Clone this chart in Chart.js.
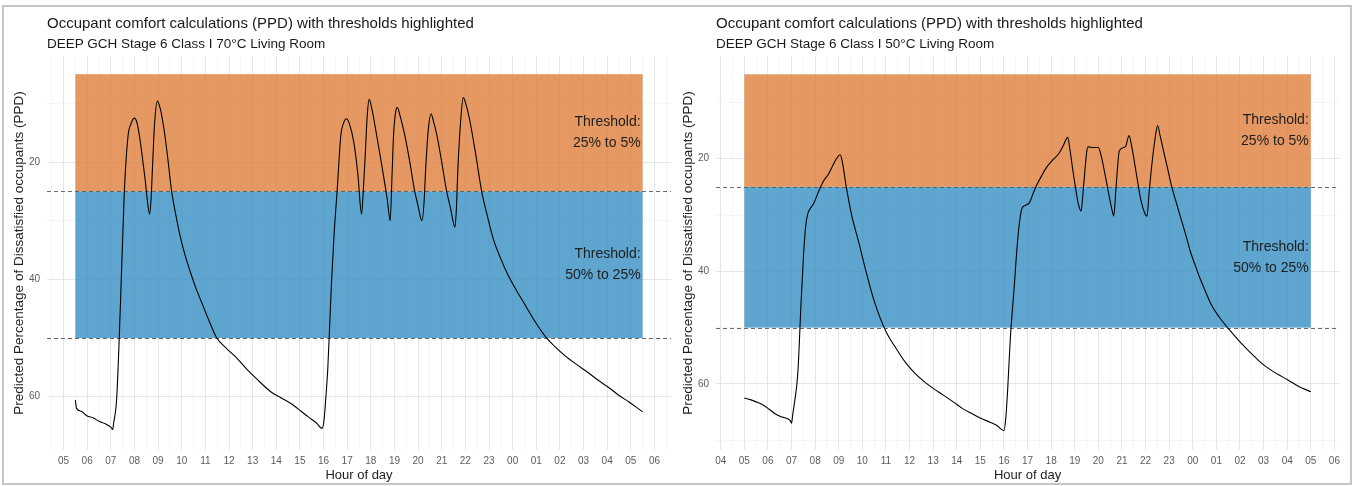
<!DOCTYPE html>
<html lang="en">
<head>
  <meta charset="UTF-8">
  <title>Occupant comfort calculations (PPD)</title>
  <script src="https://cdn.jsdelivr.net/npm/chart.js"></script>
  <style>
    body { margin: 0; background: #fff; font-family: 'Liberation Sans', Arial, sans-serif; }
    .frame { position: absolute; left: 2px; top: 5px; width: 1346px; height: 476px; border: 2px solid #c6c6c6; }
    .panel { position: absolute; top: 6px; width: 672px; height: 477px; }
    .panel h1 { position: absolute; margin: 0; top: 8px; left: 43px; font-size: 15px; font-weight: normal; color: #1a1a1a; white-space: nowrap; line-height: 18px; }
    .panel h2 { position: absolute; margin: 0; top: 30px; left: 43px; font-size: 13.5px; font-weight: normal; color: #1a1a1a; white-space: nowrap; line-height: 16px; }
    canvas { position: absolute; left: 0; top: 0; }
  </style>
</head>
<body>
  <div class="frame"></div>
  <div class="panel" style="left:4px">
    <canvas id="chart70" width="672" height="477"></canvas>
    <h1>Occupant comfort calculations (PPD) with thresholds highlighted</h1>
    <h2>DEEP GCH Stage 6 Class I 70°C Living Room</h2>
  </div>
  <div class="panel" style="left:673px">
    <canvas id="chart50" width="672" height="477"></canvas>
    <h1>Occupant comfort calculations (PPD) with thresholds highlighted</h1>
    <h2>DEEP GCH Stage 6 Class I 50°C Living Room</h2>
  </div>

  <script>
    // hour of day (24+ = next morning) and PPD, 70°C flow temperature
    const hours70 = [5.50, 5.55, 5.75, 6.00, 6.25, 6.50, 6.75, 7.00, 7.08, 7.12, 7.25, 7.41, 7.57, 7.73, 7.85, 8.00, 8.10, 8.21, 8.33, 8.45,
      8.56, 8.64, 8.70, 8.76, 8.85, 8.97, 9.10, 9.25, 9.40, 9.56, 9.75, 9.96, 10.15, 10.36, 10.60, 10.84, 11.15, 11.47, 11.90, 12.35,
      12.75, 13.15, 13.78, 14.25, 14.74, 15.05, 15.37, 15.70, 15.94, 16.02, 16.10, 16.18, 16.33, 16.45, 16.57, 16.73, 16.85, 16.97, 17.08, 17.28,
      17.45, 17.61, 17.68, 17.77, 17.85, 17.93, 18.05, 18.25, 18.40, 18.56, 18.70, 18.82, 18.90, 18.96, 19.05, 19.12, 19.25, 19.44, 19.65, 19.84,
      20.00, 20.16, 20.25, 20.32, 20.43, 20.55, 20.65, 20.80, 21.00, 21.19, 21.38, 21.56, 21.62, 21.68, 21.80, 21.91, 22.05, 22.23, 22.45, 22.70,
      22.95, 23.18, 23.50, 23.82, 24.15, 24.46, 24.95, 25.41, 25.80, 26.21, 26.70, 27.16, 27.65, 28.12, 28.50, 28.92, 29.20, 29.50];
    const ppd70 = [60.6, 62.0, 62.5, 63.3, 63.6, 64.2, 64.6, 65.2, 65.6, 64.5, 60.2, 43.9, 25.2, 15.5, 13.5, 12.5, 13.2, 15.5, 19.0, 22.9,
      27.0, 28.9, 26.5, 21.2, 13.5, 9.6, 11.0, 14.4, 19.0, 24.6, 29.0, 33.1, 36.0, 38.7, 41.5, 43.9, 47.0, 49.9, 51.8, 53.5,
      55.3, 56.9, 59.2, 60.3, 61.5, 62.5, 63.5, 64.5, 65.4, 64.0, 60.0, 55.2, 41.1, 32.0, 25.2, 15.5, 13.3, 12.6, 13.3, 16.6,
      22.0, 28.9, 25.0, 18.3, 12.0, 9.3, 11.0, 15.5, 19.0, 22.9, 26.5, 30.0, 22.0, 15.5, 11.5, 10.7, 12.3, 15.5, 20.0, 24.6,
      27.5, 30.0, 27.0, 21.2, 14.5, 11.8, 13.0, 15.5, 20.0, 24.6, 28.0, 31.1, 28.0, 21.5, 13.0, 9.0, 10.5, 13.8, 19.0, 25.2,
      29.5, 33.1, 36.5, 39.4, 41.8, 43.9, 47.2, 49.9, 51.5, 53.0, 54.5, 55.8, 57.3, 58.6, 59.8, 60.9, 61.7, 62.6];

    // same room at 50°C flow temperature
    const hours50 = [5.00, 5.25, 5.50, 5.81, 6.05, 6.30, 6.60, 6.94, 7.00, 7.05, 7.11, 7.27, 7.40, 7.51, 7.60, 7.68, 7.80, 7.92, 8.16, 8.35,
      8.57, 8.75, 8.89, 9.06, 9.15, 9.30, 9.54, 9.87, 10.19, 10.51, 11.00, 11.40, 11.81, 12.20, 12.62, 13.00, 13.43, 13.85, 14.25, 14.65,
      15.06, 15.40, 15.70, 16.00, 16.08, 16.16, 16.27, 16.43, 16.59, 16.75, 16.90, 17.08, 17.25, 17.41, 17.60, 17.81, 18.05, 18.30, 18.50, 18.70,
      18.80, 18.90, 19.03, 19.15, 19.27, 19.35, 19.43, 19.50, 19.56, 19.80, 20.00, 20.12, 20.25, 20.45, 20.60, 20.65, 20.75, 20.89, 21.14, 21.30,
      21.42, 21.54, 21.66, 21.78, 21.95, 22.06, 22.15, 22.27, 22.40, 22.51, 22.62, 22.76, 22.92, 23.08, 23.28, 23.49, 23.70, 23.89, 24.10, 24.30,
      24.55, 24.78, 25.15, 25.51, 25.95, 26.41, 26.80, 27.22, 27.60, 28.03, 28.51, 29.00];
    const ppd50 = [62.5, 62.8, 63.2, 63.8, 64.5, 65.3, 65.9, 66.5, 67.0, 65.5, 63.8, 57.9, 45.9, 37.0, 32.0, 29.9, 28.8, 28.1, 25.7, 24.0,
      22.7, 21.2, 20.1, 19.3, 20.5, 24.5, 29.9, 35.2, 40.6, 45.4, 50.7, 53.5, 56.1, 58.0, 59.6, 60.8, 62.0, 63.2, 64.4, 65.3,
      66.2, 66.8, 67.4, 68.3, 66.0, 60.8, 51.9, 43.0, 34.0, 29.0, 28.3, 27.8, 26.0, 24.5, 23.0, 21.5, 20.3, 19.2, 17.8, 16.2,
      18.5, 21.5, 25.1, 28.0, 29.3, 26.0, 22.1, 19.0, 17.9, 18.0, 18.0, 19.5, 22.1, 26.5, 29.5, 30.2, 25.0, 18.6, 17.9, 15.9,
      18.0, 20.9, 24.0, 26.9, 29.5, 30.2, 26.0, 20.9, 16.5, 14.1, 16.0, 18.6, 21.5, 24.5, 27.5, 30.5, 33.5, 36.4, 38.9, 41.2,
      43.7, 45.9, 48.3, 50.2, 52.3, 54.3, 55.9, 57.3, 58.3, 59.3, 60.5, 61.4];

    // comfort threshold bands (PPD %) and their captions
    const bandEdges = [5, 25, 50];
    const bandColours = ['rgba(222,126,58,0.8)', 'rgba(54,143,196,0.8)'];
    const bandText = [['Threshold:', '25% to 5%'], ['Threshold:', '50% to 25%']];

    // axis breaks: labelled PPD values, PPD grid lines, hour grid lines (every half hour)
    const yLabelTicks = [20, 40, 60];
    const yGridTicks = [10, 20, 30, 40, 50, 60, 70];
    const hourGridStep = 0.5;

    const FONT = "'Liberation Sans', Arial, sans-serif";
    const isWhole = v => Math.abs(v - Math.round(v)) < 1e-6;

    const thresholdBands = {
      id: 'thresholdBands',
      beforeDatasetsDraw(chart) {
        const { ctx, chartArea, scales: { x, y } } = chart;
        const hrs = chart.data.datasets[0].data;
        const x0 = x.getPixelForValue(hrs[0].x);
        const x1 = x.getPixelForValue(hrs[hrs.length - 1].x);
        ctx.save();
        for (let i = 0; i < bandColours.length; i++) {
          const yTop = y.getPixelForValue(bandEdges[i]);
          const yBot = y.getPixelForValue(bandEdges[i + 1]);
          ctx.fillStyle = bandColours[i];
          ctx.fillRect(x0, yTop, x1 - x0, yBot - yTop);
        }
        // dashed lines at the threshold limits, across the whole panel
        ctx.strokeStyle = '#5a5a5a';
        ctx.lineWidth = 0.9;
        ctx.setLineDash([4, 3]);
        bandEdges.slice(1).forEach(edge => {
          const yy = Math.round(y.getPixelForValue(edge)) + 0.5;
          ctx.beginPath();
          ctx.moveTo(chartArea.left, yy);
          ctx.lineTo(chartArea.right, yy);
          ctx.stroke();
        });
        ctx.restore();
      },
      afterDatasetsDraw(chart) {
        const { ctx, scales: { x, y } } = chart;
        const hrs = chart.data.datasets[0].data;
        const xr = x.getPixelForValue(hrs[hrs.length - 1].x) - 2;
        ctx.save();
        ctx.font = '14px ' + FONT;
        ctx.fillStyle = '#1e1e1e';
        ctx.textAlign = 'right';
        ctx.textBaseline = 'middle';
        bandText.forEach((lines, i) => {
          const mid = y.getPixelForValue((bandEdges[i] + bandEdges[i + 1]) / 2);
          ctx.fillText(lines[0], xr, mid - 10.5);
          ctx.fillText(lines[1], xr, mid + 10.5);
        });
        ctx.restore();
      }
    };

    function drawPanel(id, hours, ppd, xMin, xMax, yMin, yMax) {
      const points = hours.map((h, i) => ({ x: h, y: ppd[i] }));
      return new Chart(document.getElementById(id), {
        type: 'line',
        data: {
          datasets: [{
            data: points,
            borderColor: '#000',
            borderWidth: 1.1,
            pointRadius: 0,
            cubicInterpolationMode: 'monotone',
            fill: false
          }]
        },
        options: {
          responsive: false,
          animation: false,
          devicePixelRatio: 1,
          layout: { padding: { top: 50, right: 5, left: 0, bottom: 0 } },
          plugins: { legend: { display: false }, tooltip: { enabled: false } },
          scales: {
            x: {
              type: 'linear',
              min: xMin,
              max: xMax,
              afterFit: s => { s.height = 33; },
              afterBuildTicks: s => {
                const ticks = [];
                for (let v = Math.ceil(s.min / hourGridStep) * hourGridStep; v < s.max; v += hourGridStep) {
                  ticks.push({ value: v });
                }
                s.ticks = ticks;
              },
              border: { display: false },
              grid: {
                drawTicks: false,
                color: c => isWhole(c.tick.value) ? '#e6e6e6' : '#f0f0f0',
                lineWidth: c => isWhole(c.tick.value) ? 1 : 0.7
              },
              ticks: {
                autoSkip: false,
                maxRotation: 0,
                padding: 5,
                color: '#5c5c5c',
                font: { family: FONT, size: 10 },
                callback: v => isWhole(v) ? String(Math.round(v) % 24).padStart(2, '0') : ''
              },
              title: {
                display: true,
                text: 'Hour of day',
                color: '#1e1e1e',
                padding: { top: 0, bottom: 0 },
                font: { family: FONT, size: 13 }
              }
            },
            y: {
              reverse: true,
              min: yMin,
              max: yMax,
              afterFit: s => { s.width = 43; },
              afterBuildTicks: s => {
                s.ticks = yGridTicks.filter(v => v > s.min && v < s.max).map(v => ({ value: v }));
              },
              border: { display: false },
              grid: {
                drawTicks: false,
                color: c => yLabelTicks.includes(c.tick.value) ? '#e6e6e6' : '#f0f0f0',
                lineWidth: c => yLabelTicks.includes(c.tick.value) ? 1 : 0.7
              },
              ticks: {
                autoSkip: false,
                padding: 7,
                color: '#5c5c5c',
                font: { family: FONT, size: 10 },
                callback: v => yLabelTicks.includes(v) ? String(v) : ''
              },
              title: {
                display: true,
                text: 'Predicted Percentage of Dissatisfied occupants (PPD)',
                color: '#1e1e1e',
                padding: { top: 7, bottom: 0 },
                font: { family: FONT, size: 13.5 }
              }
            }
          }
        },
        plugins: [thresholdBands]
      });
    }

    drawPanel('chart70', hours70, ppd70, 4.3, 30.7, 1.9, 69.1);
    drawPanel('chart50', hours50, ppd50, 3.8, 30.2, 1.75, 71.75);
  </script>
</body>
</html>
